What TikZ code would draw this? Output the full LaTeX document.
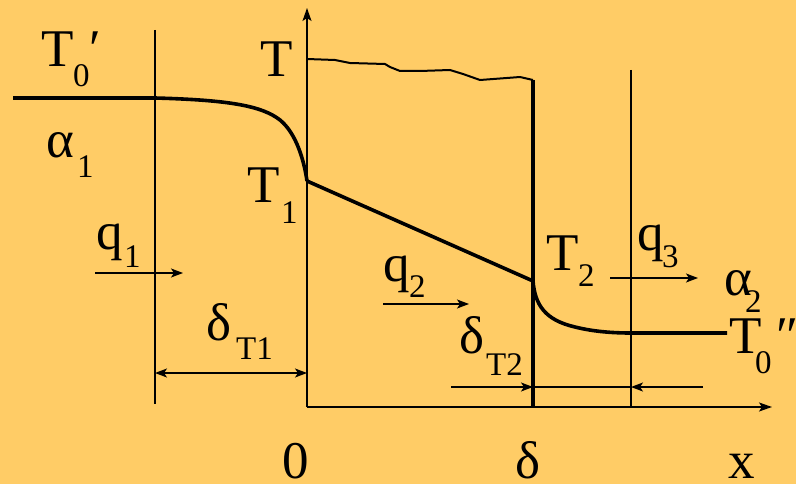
\documentclass[tikz,border=0pt]{standalone}
\usepackage{fontspec}
\setmainfont{LiberationSerif}[Extension=.ttf, UprightFont=*-Regular]
\usetikzlibrary{arrows.meta}
\definecolor{bgc}{HTML}{FFCC66}
\begin{document}
\begin{tikzpicture}[x=1pt,y=-1pt,
  thinline/.style={line width=1.6pt},
  heavy/.style={line width=3.6pt},
  lbl/.style={anchor=base west, inner sep=0pt, font=\fontsize{53}{53}\selectfont},
  sublbl/.style={anchor=base west, inner sep=0pt, font=\fontsize{33}{33}\selectfont},
  arr/.style={-{Stealth[length=12pt,width=9pt,inset=3pt]}, line width=1.4pt},
  darr/.style={{Stealth[length=12pt,width=9pt,inset=3pt]}-{Stealth[length=12pt,width=9pt,inset=3pt]}, line width=1.4pt}]
\useasboundingbox (0,0) rectangle (796,484);
\fill[bgc] (0,0) rectangle (796,484);
% key coordinates
\coordinate (O) at (307,407);
\coordinate (ytop) at (307,8);
\coordinate (xend) at (772,407);
\coordinate (L1) at (155,30);
\coordinate (L1b) at (155,404);
\coordinate (R1) at (631,70);
\coordinate (R1b) at (631,407);
\coordinate (W1) at (533,80);
\coordinate (W1b) at (533,407);
\coordinate (A) at (13,98);
\coordinate (B) at (155,98);
\coordinate (T1p) at (307,181);
\coordinate (T2p) at (533,281);
\coordinate (C) at (631,333);
\coordinate (D) at (727,333);
% axes
\draw[thinline,-{Stealth[length=13pt,width=9pt,inset=3pt]}] (O) -- (ytop);
\draw[thinline,-{Stealth[length=13pt,width=9pt,inset=3pt]}] (O) -- (xend);
% vertical boundaries
\draw[thinline] (L1) -- (L1b);
\draw[thinline] (R1) -- (R1b);
\draw[line width=4pt] (W1) -- (W1b);
% upper T profile (wavy)
\draw[line width=2pt, line join=round] (307,59) -- (335,60) -- (350,63) -- (385,64) -- (390,67) -- (400,71) -- (420,71) -- (450,70) -- (463,74) -- (480,80) -- (520,77) -- (W1);
% temperature profile
\draw[heavy] (A) -- (B) .. controls (230,100) and (262,106) .. (280,120)
  .. controls (296,133) and (304,160) .. (T1p);
\draw[heavy] (T1p) -- (T2p);
\draw[heavy] (T2p) .. controls (535,305) and (545,320) .. (575,327)
  .. controls (595,332) and (615,333) .. (C) -- (D);
% labels
\node[lbl] (T0a) at (41,67) {T};
\node[sublbl] (T0as) at (73,87) {0};
\node[lbl] (T0ap) at (89,67) {′};
\node[lbl] (al1) at (46,158) {α};
\node[sublbl] (al1s) at (77,178) {1};
\node[lbl] (Tax) at (260,77) {T};
\node[lbl] (T1) at (247,203) {T};
\node[sublbl] (T1s) at (281,223) {1};
\node[lbl] (q1) at (96,249) {q};
\node[sublbl] (q1s) at (124,268) {1};
\node[lbl] (dT1) at (206,340) {δ};
\node[sublbl] (dT1s) at (236,359) {T1};
\node[lbl] (q2) at (383,281) {q};
\node[sublbl] (q2s) at (409,298) {2};
\node[lbl] (dT2) at (459,353) {δ};
\node[sublbl] (dT2s) at (486,375) {T2};
\node[lbl] (T2) at (546,270) {T};
\node[sublbl] (T2s) at (578,287) {2};
\node[lbl] (q3) at (637,251) {q};
\node[sublbl] (q3s) at (662,268) {3};
\node[lbl] (al2) at (724,295) {α};
\node[sublbl] (al2s) at (745,312) {2};
\node[lbl] (T0b) at (729,353) {T};
\node[sublbl] (T0bs) at (755,373) {0};
\node[lbl] (T0bp) at (776,353) {″};
\node[lbl] (zero) at (282,478) {0};
\node[lbl] (delta) at (515,478) {δ};
\node[lbl] (xl) at (728,478) {x};
% flux arrows
\coordinate (q1a) at (95,273); \coordinate (q1b) at (183,273);
\coordinate (q2a) at (383,304); \coordinate (q2b) at (469,304);
\coordinate (q3a) at (610,278); \coordinate (q3b) at (698,278);
\draw[arr] (q1a) -- (q1b);
\draw[arr] (q2a) -- (q2b);
\draw[arr] (q3a) -- (q3b);
% dimension arrows
\coordinate (d1a) at (155,373); \coordinate (d1b) at (307,373);
\draw[darr] (d1a) -- (d1b);
\coordinate (d2a) at (451,387); \coordinate (d2b) at (533,387);
\coordinate (d2c) at (631,387); \coordinate (d2d) at (703,387);
\draw[arr] (d2a) -- (d2b);
\draw[line width=1.4pt] (d2b) -- (d2c);
\draw[arr] (d2d) -- (d2c);
\end{tikzpicture}
\end{document}
